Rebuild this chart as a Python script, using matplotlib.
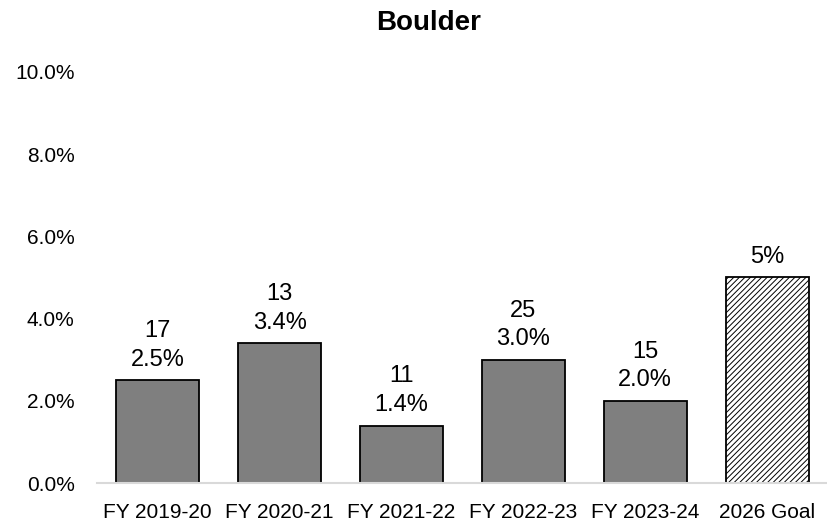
import numpy as np
import matplotlib
matplotlib.use('Agg')
from matplotlib import pyplot as plt
from matplotlib.ticker import FuncFormatter

plt.rcParams['font.family'] = ['Liberation Sans', 'DejaVu Sans']
plt.rcParams['hatch.linewidth'] = 0.7
plt.rcParams['hatch.color'] = '#505050'

# 数据
years = ['FY 2019-20', 'FY 2020-21', 'FY 2021-22', 'FY 2022-23', 'FY 2023-24', '2026 Goal']
rates = [2.5, 3.4, 1.4, 3.0, 2.0, 5.0]
counts = ['17', '13', '11', '25', '15', '']
rate_labels = ['2.5%', '3.4%', '1.4%', '3.0%', '2.0%', '5%']

fig = plt.figure(figsize=(8.28, 5.24), dpi=100)
ax = fig.add_axes([0.117, 0.078, 0.883, 0.785])

x = np.arange(len(years))
colors = ['#7f7f7f'] * 5 + ['white']
bars = ax.bar(x, rates, width=0.68, color=colors, edgecolor='black', linewidth=1.3)
bars[-1].set_hatch('//////')

# 柱子上方的标签
for i, b in enumerate(bars):
    txt = rate_labels[i] if counts[i] == '' else counts[i] + '\n' + rate_labels[i]
    ax.annotate(txt, (b.get_x() + b.get_width() / 2, b.get_height()),
                xytext=(0, 7), textcoords='offset points',
                ha='center', va='bottom', fontsize=17, linespacing=1.38)

ax.set_xlim(-0.5, 5.5)
ax.set_ylim(0, 10)
ax.set_yticks(np.arange(0, 11, 2))
ax.yaxis.set_major_formatter(FuncFormatter(lambda v, p: '%.1f%%' % v))
ax.set_xticks(x)
ax.set_xticklabels(years)
ax.tick_params(axis='both', length=0, labelsize=15)
ax.tick_params(axis='y', pad=16)
ax.tick_params(axis='x', pad=14)

for s in ['top', 'right', 'left']:
    ax.spines[s].set_visible(False)
ax.spines['bottom'].set_color('#d9d9d9')
ax.spines['bottom'].set_linewidth(1.5)

fig.text(0.517, 0.957, 'Boulder', ha='center', va='center', fontsize=20, fontweight='bold')

plt.savefig('out.png', dpi=100)
